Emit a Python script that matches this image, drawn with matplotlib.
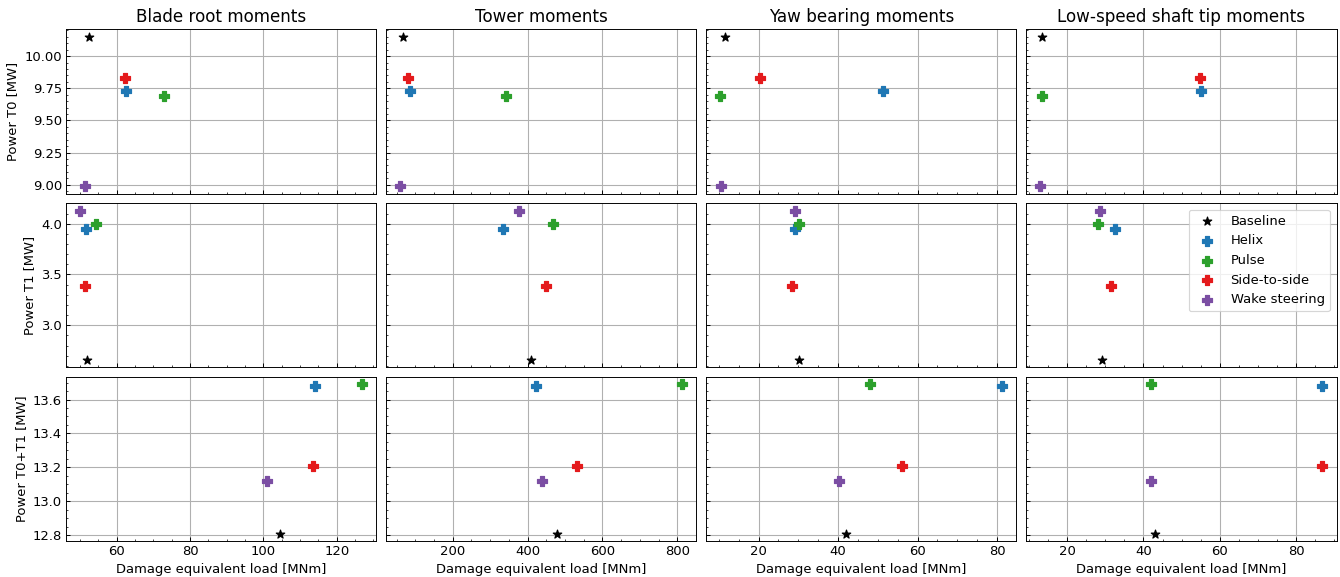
import matplotlib
matplotlib.use("Agg")
import matplotlib.pyplot as plt

# ---------------- data ----------------
strategies = ['Baseline', 'Helix', 'Pulse', 'Side-to-side', 'Wake steering']
colors = ['black', '#1f77b4', '#2ca02c', '#e41a1c', '#7b4ea3']
markers = ['*', 'P', 'P', 'P', 'P']

col_titles = ['Blade root moments', 'Tower moments', 'Yaw bearing moments',
              'Low-speed shaft tip moments']
row_labels = ['Power T0 [MW]', 'Power T1 [MW]', 'Power T0+T1 [MW]']

power_t0 = [10.15, 9.73, 9.69, 9.83, 8.99]
power_t1 = [2.66, 3.95, 4.00, 3.39, 4.13]
power_total = [12.81, 13.68, 13.69, 13.21, 13.12]

blade_t0 = [52.4, 62.5, 72.9, 62.1, 51.2]
blade_t1 = [51.8, 51.6, 54.3, 51.4, 50.0]
blade_total = [104.4, 114.1, 126.9, 113.5, 101.0]

tower_t0 = [66, 87, 343, 82, 60]
tower_t1 = [410, 335, 468, 450, 378]
tower_total = [479, 422, 813, 532, 438]

yaw_t0 = [11.6, 51.3, 10.4, 20.4, 10.6]
yaw_t1 = [30.1, 29.1, 30.1, 28.4, 29.1]
yaw_total = [42.1, 81.3, 48.1, 56.0, 40.3]

lss_t0 = [13.5, 55.2, 13.5, 54.9, 13.0]
lss_t1 = [29.2, 32.6, 28.2, 31.6, 28.7]
lss_total = [42.9, 86.9, 41.9, 86.8, 42.1]

loads = [
    [blade_t0, tower_t0, yaw_t0, lss_t0],
    [blade_t1, tower_t1, yaw_t1, lss_t1],
    [blade_total, tower_total, yaw_total, lss_total],
]
powers = [power_t0, power_t1, power_total]

# ---------------- figure ----------------
plt.rcParams['font.size'] = 11
dpi = 86
fig, axes = plt.subplots(3, 4, figsize=(1340 / dpi, 577 / dpi), dpi=dpi,
                         sharex='col', sharey='row')
fig.subplots_adjust(left=0.0493, right=0.9974, bottom=0.0624, top=0.9492,
                    wspace=0.032, hspace=0.058)

for r in range(3):
    for c in range(4):
        ax = axes[r, c]
        ax.set_axisbelow(True)
        ax.grid(True, which='major', color='#b0b0b0', linewidth=0.9)
        for i, name in enumerate(strategies):
            s = 55 if markers[i] == '*' else 75
            ax.scatter(loads[r][c][i], powers[r][i], marker=markers[i],
                       color=colors[i], s=s, label=name, zorder=3)
        ax.minorticks_on()
        ax.tick_params(which='both', direction='in', labelsize=11)
        if r == 0:
            ax.set_title(col_titles[c], fontsize=14)
        if c == 0:
            ax.set_ylabel(row_labels[r], fontsize=11)
        if r == 2:
            ax.set_xlabel('Damage equivalent load [MNm]', fontsize=11)

axes[1, 3].legend(loc='upper right', fontsize=11)

fig.savefig('out.png', dpi=dpi)
